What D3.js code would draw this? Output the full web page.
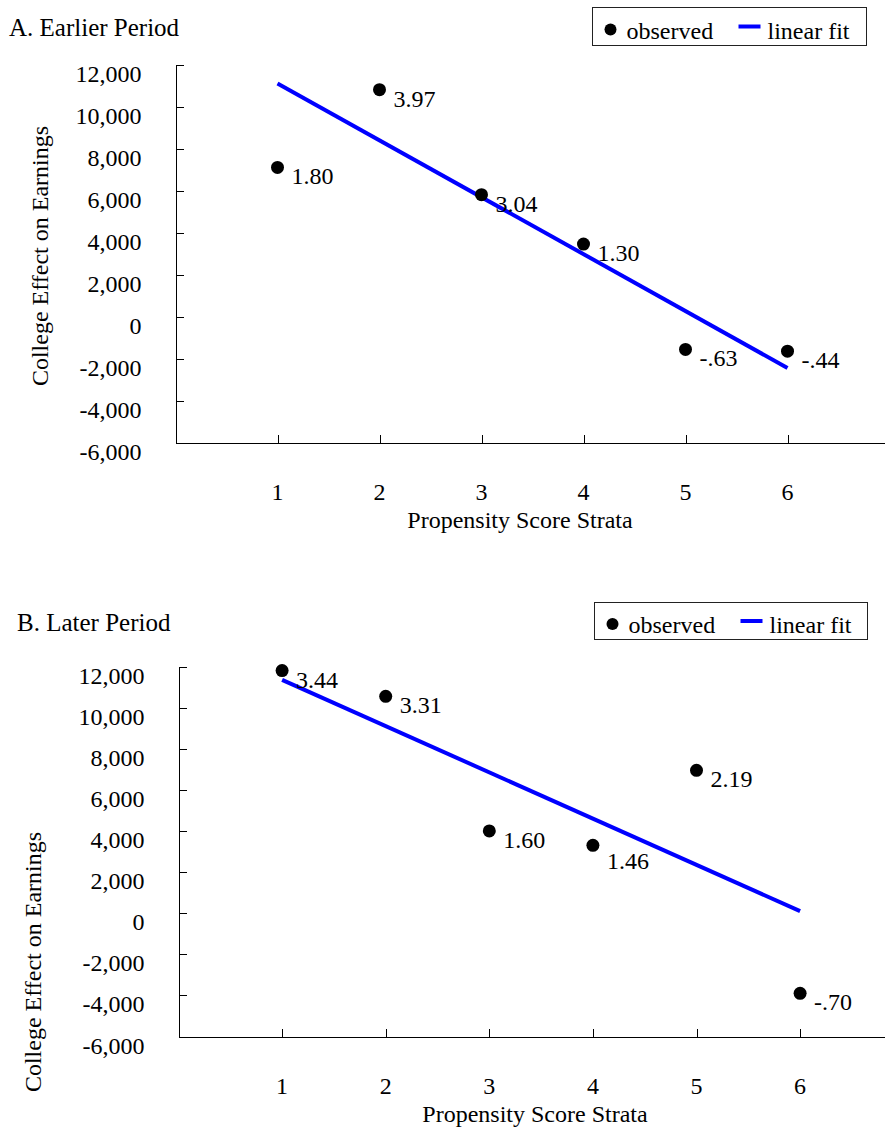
<!DOCTYPE html>
<html>
<head>
<meta charset="utf-8">
<script src="https://cdn.jsdelivr.net/npm/d3@7"></script>
<style>
  body { margin: 0; background: #fff; }
  svg { display: block; }
  text { font-family: "Liberation Serif", "Times New Roman", serif; font-size: 24px; fill: #000; }
  text.panel-title { font-size: 25px; }
</style>
</head>
<body>
<svg id="chart" width="885" height="1127"></svg>
<script>
// Propensity score strata (x) and college effect on earnings (y)
const strata = [1, 2, 3, 4, 5, 6];
const yTickValues = [-6000, -4000, -2000, 0, 2000, 4000, 6000, 8000, 10000, 12000];
const yTickLabels = ["-6,000", "-4,000", "-2,000", "0", "2,000", "4,000", "6,000", "8,000", "10,000", "12,000"];
const xTickLabels = ["1", "2", "3", "4", "5", "6"];

// Panel A: earlier period
const earlierEffect = [7100, 10800, 5800, 3450, -1570, -1650];
const earlierTStats = ["1.80", "3.97", "3.04", "1.30", "-.63", "-.44"];
const earlierFit = [11100, -2450];   // fitted values at strata 1 and 6

// Panel B: later period
const laterEffect = [11800, 10550, 4000, 3300, 6950, -3900];
const laterTStats = ["3.44", "3.31", "1.60", "1.46", "2.19", "-.70"];
const laterFit = [11350, 100];       // fitted values at strata 1 and 6

const svg = d3.select("#chart");

const panels = [
  {
    title: "A. Earlier Period", titleX: 9, titleY: 36,
    values: earlierEffect, tstats: earlierTStats, fit: earlierFit,
    x0: 175.5, step: 102, yTop: 64.5, yBottom: 442.5,
    yTitleX: 40, yTitleY: 256, xTitleX: 520,
    legend: { x: 592.5, y: 7.5, w: 274, h: 38 },
    nudge: [0, 0, 0, 0, 0, 0]
  },
  {
    title: "B. Later Period", titleX: 17, titleY: 631,
    values: laterEffect, tstats: laterTStats, fit: laterFit,
    x0: 178.5, step: 103.6, yTop: 666.5, yBottom: 1036.5,
    yTitleX: 33, yTitleY: 962, xTitleX: 535,
    legend: { x: 594.5, y: 602.5, w: 273, h: 37 },
    nudge: [0, 0, 0, 7, 0, 0]
  }
];

function drawPanel(p) {
  const x = d3.scaleLinear().domain([0, 7]).range([p.x0, p.x0 + 7 * p.step]);
  const y = d3.scaleLinear().domain([-6000, 12000]).range([p.yBottom, p.yTop]);
  const g = svg.append("g");

  // Title
  g.append("text").attr("class", "panel-title").attr("x", p.titleX).attr("y", p.titleY).text(p.title);

  // Y axis with inward ticks
  const yAxis = d3.axisRight(y).tickValues(yTickValues).tickSize(8).tickSizeOuter(0).tickFormat("");
  const ya = g.append("g").attr("transform", `translate(${p.x0},0)`).call(yAxis);
  ya.selectAll("path,line").attr("stroke", "#000").attr("stroke-width", 1).attr("shape-rendering", "crispEdges");

  g.selectAll(".ylab").data(yTickValues).join("text")
    .attr("class", "ylab")
    .attr("x", p.x0 - 34)
    .attr("y", d => y(d) + 17)
    .attr("text-anchor", "end")
    .text((d, i) => yTickLabels[i]);

  // X axis with inward ticks
  const xAxis = d3.axisTop(x).tickValues(strata).tickSize(8).tickSizeOuter(0).tickFormat("");
  const xa = g.append("g").attr("transform", `translate(0,${p.yBottom})`).call(xAxis);
  xa.selectAll("path,line").attr("stroke", "#000").attr("stroke-width", 1).attr("shape-rendering", "crispEdges");

  g.selectAll(".xlab").data(strata).join("text")
    .attr("class", "xlab")
    .attr("x", d => x(d))
    .attr("y", p.yBottom + 57)
    .attr("text-anchor", "middle")
    .text((d, i) => xTickLabels[i]);

  // Axis titles
  g.append("text")
    .attr("x", p.xTitleX).attr("y", p.yBottom + 85)
    .attr("text-anchor", "middle")
    .text("Propensity Score Strata");
  g.append("text")
    .attr("transform", `translate(${p.yTitleX},${p.yTitleY}) rotate(-90)`)
    .attr("text-anchor", "middle")
    .attr("dominant-baseline", "central")
    .text("College Effect on Earnings");

  // Linear fit
  g.append("line")
    .attr("x1", x(strata[0])).attr("y1", y(p.fit[0]))
    .attr("x2", x(strata[strata.length - 1])).attr("y2", y(p.fit[1]))
    .attr("stroke", "#0000ff").attr("stroke-width", 4);

  // Observed points and their t-statistics
  g.selectAll(".pt").data(strata).join("circle")
    .attr("class", "pt")
    .attr("cx", d => x(d))
    .attr("cy", (d, i) => y(p.values[i]))
    .attr("r", 6.5)
    .attr("fill", "#000");

  g.selectAll(".tlab").data(strata).join("text")
    .attr("class", "tlab")
    .attr("x", d => x(d) + 14)
    .attr("y", (d, i) => y(p.values[i]) + 17 + p.nudge[i])
    .text((d, i) => p.tstats[i]);

  // Legend
  const L = p.legend;
  const lg = g.append("g").attr("transform", `translate(${L.x},${L.y})`);
  lg.append("rect").attr("width", L.w).attr("height", L.h)
    .attr("fill", "#fff").attr("stroke", "#222").attr("stroke-width", 1);
  lg.append("circle").attr("cx", 18).attr("cy", L.h / 2 + 3).attr("r", 6).attr("fill", "#000");
  lg.append("text").attr("x", 34).attr("y", L.h / 2 + 12).text("observed");
  lg.append("line").attr("x1", 146).attr("x2", 168).attr("y1", L.h / 2).attr("y2", L.h / 2)
    .attr("stroke", "#0000ff").attr("stroke-width", 4);
  lg.append("text").attr("x", 175).attr("y", L.h / 2 + 12).text("linear fit");
}

panels.forEach(drawPanel);
</script>
</body>
</html>
